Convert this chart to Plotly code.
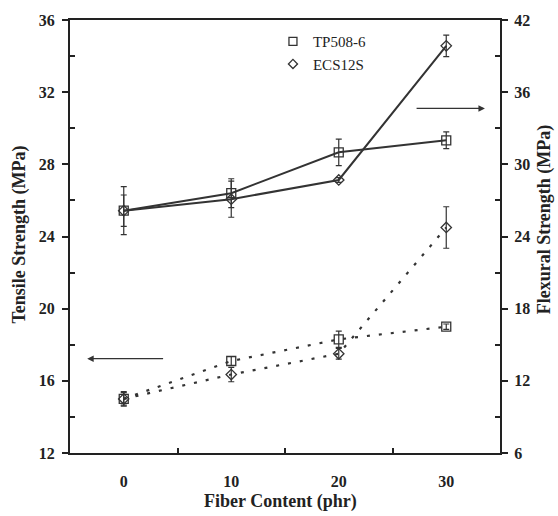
import plotly.graph_objects as go

fiber = [0, 10, 20, 30]
x_ticks = [0, 10, 20, 30]

tensile_tp = [15.0, 17.1, 18.3, 19.0]
tensile_tp_err = [0.4, 0.25, 0.45, 0.15]
tensile_ecs = [15.0, 16.35, 17.5, 24.5]
tensile_ecs_err = [0.35, 0.4, 0.3, 1.15]

flex_tp = [26.15, 27.6, 31.0, 32.0]
flex_tp_err = [1.3, 1.2, 1.1, 0.7]
flex_ecs = [26.15, 27.1, 28.7, 39.85]
flex_ecs_err = [2.0, 1.5, 0.2, 0.9]

names = ["TP508-6", "ECS12S"]

FONT = "Liberation Serif"
LC = "#333333"
AX = "#222222"

fig = go.Figure()

def err(a):
    return dict(type="data", array=a, visible=True, color=LC, thickness=1.2, width=3)

# Tensile (dotted, left axis)
fig.add_trace(go.Scatter(x=fiber, y=tensile_tp, mode="lines+markers", yaxis="y",
                         line=dict(color=LC, width=2.2, dash="3px,9px"),
                         marker=dict(symbol="square-open", size=9, color=LC, line=dict(width=1.3)),
                         error_y=err(tensile_tp_err), showlegend=False))
fig.add_trace(go.Scatter(x=fiber, y=tensile_ecs, mode="lines+markers", yaxis="y",
                         line=dict(color=LC, width=2.2, dash="3px,9px"),
                         marker=dict(symbol="diamond-open", size=8, color=LC, line=dict(width=1.3)),
                         error_y=err(tensile_ecs_err), showlegend=False))
# Flexural (solid, right axis)
fig.add_trace(go.Scatter(x=fiber, y=flex_tp, mode="lines+markers", yaxis="y2",
                         line=dict(color=LC, width=2),
                         marker=dict(symbol="square-open", size=9, color=LC, line=dict(width=1.3)),
                         error_y=err(flex_tp_err), showlegend=False))
fig.add_trace(go.Scatter(x=fiber, y=flex_ecs, mode="lines+markers", yaxis="y2",
                         line=dict(color=LC, width=2),
                         marker=dict(symbol="diamond-open", size=8, color=LC, line=dict(width=1.3)),
                         error_y=err(flex_ecs_err), showlegend=False))

# legend entries (markers only)
fig.add_trace(go.Scatter(x=[None], y=[None], mode="markers", name=names[0],
                         marker=dict(symbol="square-open", size=8, color=LC, line=dict(width=1.3))))
fig.add_trace(go.Scatter(x=[None], y=[None], mode="markers", name=names[1],
                         marker=dict(symbol="diamond-open", size=7, color=LC, line=dict(width=1.3))))

tickfont = dict(family=FONT, size=16, color="#222", weight="bold")

fig.update_layout(
    width=558, height=516,
    margin=dict(l=70, r=58, t=17, b=63),
    paper_bgcolor="white", plot_bgcolor="white",
    font=dict(family=FONT, color="#222"),
    showlegend=True,
    legend=dict(x=0.472, y=0.988, xanchor="left", yanchor="top",
                bgcolor="rgba(0,0,0,0)", font=dict(family=FONT, size=15, color="#222"),
                tracegroupgap=0, itemwidth=30),
    xaxis=dict(range=[-5, 35], tickvals=x_ticks, ticktext=[str(v) for v in x_ticks],
               ticks="", showgrid=False, zeroline=False,
               showline=True, linecolor=AX, linewidth=2, mirror=True,
               tickfont=tickfont, ticklabelstandoff=13,
               minor=dict(tickvals=[5, 15, 25], ticks="inside", ticklen=5, tickcolor=AX, tickwidth=1.5)),
    yaxis=dict(range=[12, 36], tickvals=[12, 16, 20, 24, 28, 32, 36],
               ticks="outside", ticklen=6, tickwidth=1.5, tickcolor=AX,
               showgrid=False, zeroline=False, showline=True, linecolor=AX, linewidth=2,
               tickfont=tickfont, ticklabelstandoff=4,
               minor=dict(tickvals=[14, 18, 22, 26, 30, 34], ticks="inside", ticklen=5,
                          tickcolor=AX, tickwidth=1.5)),
    yaxis2=dict(range=[6, 42], tickvals=[6, 12, 18, 24, 30, 36, 42], overlaying="y", side="right",
                ticks="outside", ticklen=6, tickwidth=1.5, tickcolor=AX,
                showgrid=False, zeroline=False, showline=True, linecolor=AX, linewidth=2,
                tickfont=tickfont, ticklabelstandoff=3,
                minor=dict(tickvals=[9, 15, 21, 27, 33, 39], ticks="inside", ticklen=5,
                           tickcolor=AX, tickwidth=1.5)),
)

titlefont = dict(family=FONT, size=18, color="#222", weight="bold")
fig.add_annotation(text="Tensile Strength (MPa)", xref="paper", yref="paper",
                   x=-0.118, y=0.505, textangle=-90, showarrow=False, font=titlefont,
                   xanchor="center", yanchor="middle")
fig.add_annotation(text="Flexural Strength (MPa)", xref="paper", yref="paper",
                   x=1.104, y=0.539, textangle=-90, showarrow=False, font=titlefont,
                   xanchor="center", yanchor="middle")
fig.add_annotation(text="Fiber Content (phr)", xref="paper", yref="paper",
                   x=0.49, y=-0.113, showarrow=False, font=titlefont,
                   xanchor="center", yanchor="middle")

# direction arrows
fig.add_annotation(x=-3.4, y=17.23, ax=3.8, ay=17.23, xref="x", yref="y", axref="x", ayref="y",
                   text="", showarrow=True, arrowhead=2, arrowsize=1, arrowwidth=1.3, arrowcolor=LC)
fig.add_annotation(x=33.6, y=31.1, ax=27.1, ay=31.1, xref="x", yref="y", axref="x", ayref="y",
                   text="", showarrow=True, arrowhead=2, arrowsize=1, arrowwidth=1.3, arrowcolor=LC)

fig.write_html("out.html")
